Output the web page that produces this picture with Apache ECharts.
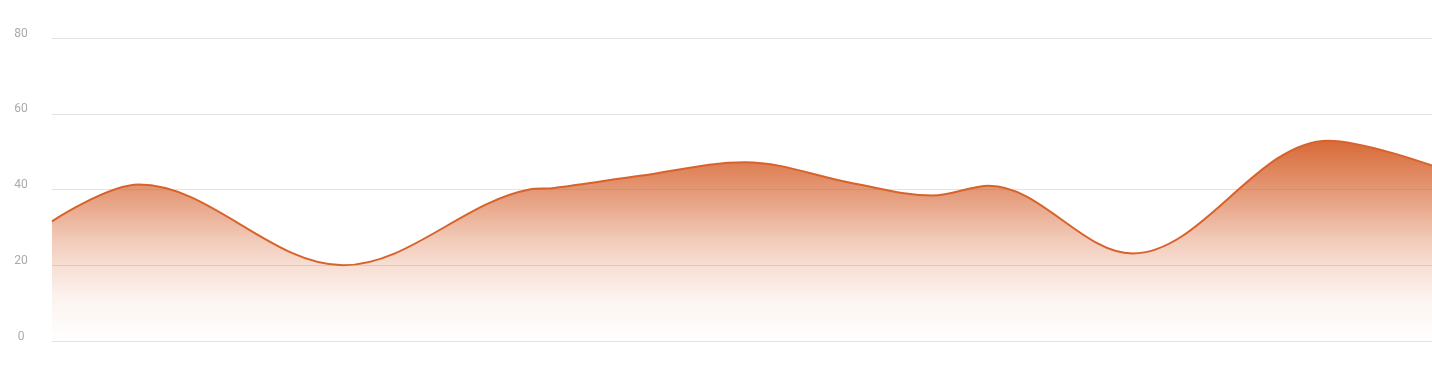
<!DOCTYPE html>
<html>
<head>
<meta charset="utf-8">
<script src="https://cdn.jsdelivr.net/npm/echarts@6/dist/echarts.min.js"></script>
<style>
html,body{margin:0;padding:0;background:#fff;}
#c{width:1432px;height:371px;}
</style>
</head>
<body>
<div id="c"></div>
<script>
// x positions (arbitrary units along the hidden x axis) and values
var xValues = [0, 6.3, 21.1, 34.6, 36.4, 42.6, 50.2, 58.1, 63.8, 67.9, 78.3, 92.5, 100];
var yValues = [31.6, 41.3, 20.0, 40.0, 40.4, 43.6, 47.2, 41.6, 38.4, 41.0, 23.1, 52.9, 46.3];
var yTicks = [0, 20, 40, 60, 80];

var data = xValues.map(function (x, i) { return [x, yValues[i]]; });

var chart = echarts.init(document.getElementById('c'));
chart.setOption({
  animation: false,
  grid: { left: 52, right: 0, top: 38, bottom: 30 },
  xAxis: {
    type: 'value', min: 0, max: 100, show: false
  },
  yAxis: {
    type: 'value', min: yTicks[0], max: yTicks[yTicks.length - 1], interval: 20,
    axisLine: { show: false }, axisTick: { show: false },
    axisLabel: {
      color: '#aaaaaa', fontSize: 12, fontFamily: 'Roboto',
      align: 'center', verticalAlign: 'bottom', lineHeight: 9, margin: 31
    },
    splitLine: { lineStyle: { color: '#e3e3e3', width: 1 } }
  },
  series: [{
    type: 'line',
    data: data,
    smooth: 0.35,
    symbol: 'none',
    lineStyle: { color: '#d9622b', width: 2 },
    areaStyle: {
      opacity: 1,
      color: {
        type: 'linear', x: 0, y: 0, x2: 0, y2: 1,
        colorStops: [
          { offset: 0, color: 'rgba(214,98,45,0.95)' },
          { offset: 0.25, color: 'rgba(214,98,45,0.65)' },
          { offset: 0.5, color: 'rgba(214,98,45,0.33)' },
          { offset: 0.62, color: 'rgba(214,98,45,0.21)' },
          { offset: 0.8, color: 'rgba(214,98,45,0.07)' },
          { offset: 1, color: 'rgba(214,98,45,0)' }
        ]
      }
    }
  }]
});
</script>
</body>
</html>
